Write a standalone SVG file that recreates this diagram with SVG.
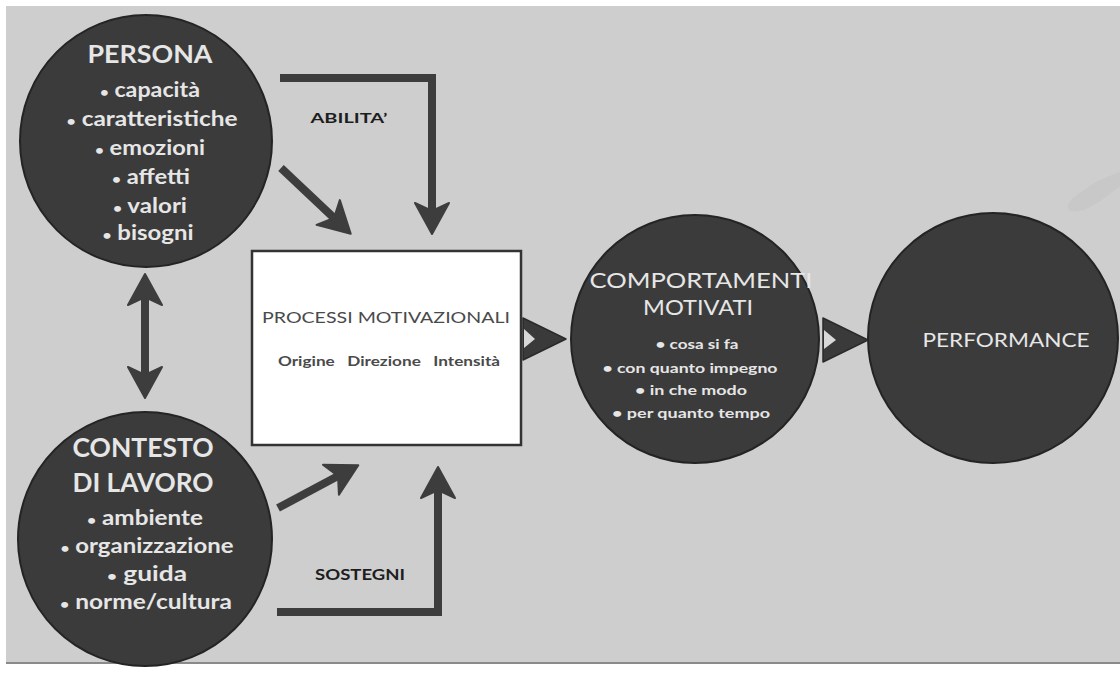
<svg xmlns="http://www.w3.org/2000/svg" width="1120" height="673" viewBox="0 0 1120 673">
<defs>
<marker id="head" markerUnits="userSpaceOnUse" markerWidth="40" markerHeight="40" viewBox="-2 -20 40 40" refX="8" refY="0" orient="auto-start-reverse">
<path d="M0,-17 L31,0 L0,17 L8,0 Z" fill="#3d3d3d" stroke="#3d3d3d" stroke-width="2" stroke-linejoin="round"/>
</marker>
</defs>
<style>
.bg{fill:#cecece}
.circ{fill:#3b3b3b;stroke:#242424;stroke-width:2}
.box{fill:#ffffff;stroke:#333333;stroke-width:2.5}
.conn{fill:none;stroke:#3d3d3d;stroke-width:8;stroke-linejoin:miter}
.tri{fill:#3a3a3a;stroke:#2a2a2a;stroke-width:1.5;stroke-linejoin:round}
.notch{fill:#d8d8d8}
.w{fill:#e6e6e6;font-family:Lato,"Open Sans","Liberation Sans",sans-serif;text-anchor:middle}
.b{font-weight:bold}
.dot{font-size:13px}
.lbl{fill:#1e1e1e;font-family:Lato,"Liberation Sans",sans-serif;font-weight:bold;text-anchor:middle}
.proc{fill:#4a4a4a;font-family:Lato,"Liberation Sans",sans-serif;text-anchor:middle}
</style>
<rect width="1120" height="673" fill="#ffffff"/>
<rect class="bg" x="6" y="6" width="1114" height="657"/>
<path d="M1068,205 C1072,196 1082,192 1090,186 C1098,180 1110,176 1120,172 L1120,186 C1110,194 1098,204 1084,210 C1074,213 1066,211 1068,205 Z" fill="#c8c8c8"/>
<line x1="6" y1="663" x2="1120" y2="663" stroke="#8a8a8a" stroke-width="2"/>

<g id="persona">
<circle class="circ" cx="146" cy="141" r="126"/>
<text class="w b" x="150" y="63" font-size="24" textLength="125" lengthAdjust="spacingAndGlyphs">PERSONA</text>
<text class="w b" x="150" y="97" font-size="20" textLength="100" lengthAdjust="spacingAndGlyphs"><tspan class="dot">•</tspan> capacità</text>
<text class="w b" x="152" y="126" font-size="20" textLength="171" lengthAdjust="spacingAndGlyphs"><tspan class="dot">•</tspan> caratteristiche</text>
<text class="w b" x="150" y="155" font-size="20" textLength="110" lengthAdjust="spacingAndGlyphs"><tspan class="dot">•</tspan> emozioni</text>
<text class="w b" x="151" y="184" font-size="20" textLength="78" lengthAdjust="spacingAndGlyphs"><tspan class="dot">•</tspan> affetti</text>
<text class="w b" x="150" y="213" font-size="20" textLength="74" lengthAdjust="spacingAndGlyphs"><tspan class="dot">•</tspan> valori</text>
<text class="w b" x="148" y="240" font-size="20" textLength="91" lengthAdjust="spacingAndGlyphs"><tspan class="dot">•</tspan> bisogni</text>
</g>

<g id="contesto">
<circle class="circ" cx="145" cy="539" r="127"/>
<text class="w b" x="143" y="457" font-size="27" textLength="141" lengthAdjust="spacingAndGlyphs">CONTESTO</text>
<text class="w b" x="143" y="492" font-size="27" textLength="141" lengthAdjust="spacingAndGlyphs">DI LAVORO</text>
<text class="w b" x="145" y="525" font-size="20" textLength="116" lengthAdjust="spacingAndGlyphs"><tspan class="dot">•</tspan> ambiente</text>
<text class="w b" x="147" y="553" font-size="20" textLength="173" lengthAdjust="spacingAndGlyphs"><tspan class="dot">•</tspan> organizzazione</text>
<text class="w b" x="147" y="581" font-size="20" textLength="80" lengthAdjust="spacingAndGlyphs"><tspan class="dot">•</tspan> guida</text>
<text class="w b" x="146" y="609" font-size="20" textLength="172" lengthAdjust="spacingAndGlyphs"><tspan class="dot">•</tspan> norme/cultura</text>
</g>

<g id="processi">
<rect class="box" x="252" y="251" width="269" height="194"/>
<text class="proc" x="386" y="323" font-size="16" textLength="248" lengthAdjust="spacingAndGlyphs">PROCESSI MOTIVAZIONALI</text>
<text class="proc b" x="389" y="366" font-size="13" fill="#555555" xml:space="preserve" textLength="222" lengthAdjust="spacingAndGlyphs">Origine   Direzione   Intensità</text>
</g>

<g id="comportamenti">
<circle class="circ" cx="695" cy="339" r="124"/>
<text class="w" x="701" y="288" font-size="21" textLength="223" lengthAdjust="spacingAndGlyphs">COMPORTAMENTI</text>
<text class="w" x="698" y="315" font-size="21" textLength="110" lengthAdjust="spacingAndGlyphs">MOTIVATI</text>
<text class="w b" x="697" y="349" font-size="14" textLength="83" lengthAdjust="spacingAndGlyphs">• cosa si fa</text>
<text class="w b" x="690" y="373" font-size="14" textLength="175" lengthAdjust="spacingAndGlyphs">• con quanto impegno</text>
<text class="w b" x="691" y="395" font-size="14" textLength="112" lengthAdjust="spacingAndGlyphs">• in che modo</text>
<text class="w b" x="691" y="418" font-size="14" textLength="158" lengthAdjust="spacingAndGlyphs">• per quanto tempo</text>
</g>

<g id="performance">
<circle class="circ" cx="993" cy="338" r="125"/>
<text class="w" x="1006" y="347" font-size="20" textLength="167" lengthAdjust="spacingAndGlyphs">PERFORMANCE</text>
</g>

<g id="connectors">
<path class="conn" d="M280,78 H432 V211" marker-end="url(#head)"/>
<path class="conn" d="M281,168 L334,218" marker-end="url(#head)"/>
<path class="conn" d="M277,612 H438 V490" marker-end="url(#head)"/>
<path class="conn" d="M278,508 L338,476" marker-end="url(#head)"/>
<path class="conn" d="M145,297 V375" marker-start="url(#head)" marker-end="url(#head)"/>
<polygon class="tri" points="523,318 566,339 523,360"/>
<polygon class="notch" points="524,329 535,339 524,348"/>
<polygon class="tri" points="823,318 868,340 823,362"/>
<polygon class="notch" points="824,330 836,340 824,349"/>
<text class="lbl" x="349" y="123" font-size="14" textLength="77" lengthAdjust="spacingAndGlyphs">ABILITA’</text>
<text class="lbl" x="360" y="580" font-size="15" textLength="90" lengthAdjust="spacingAndGlyphs">SOSTEGNI</text>
</g>
</svg>
